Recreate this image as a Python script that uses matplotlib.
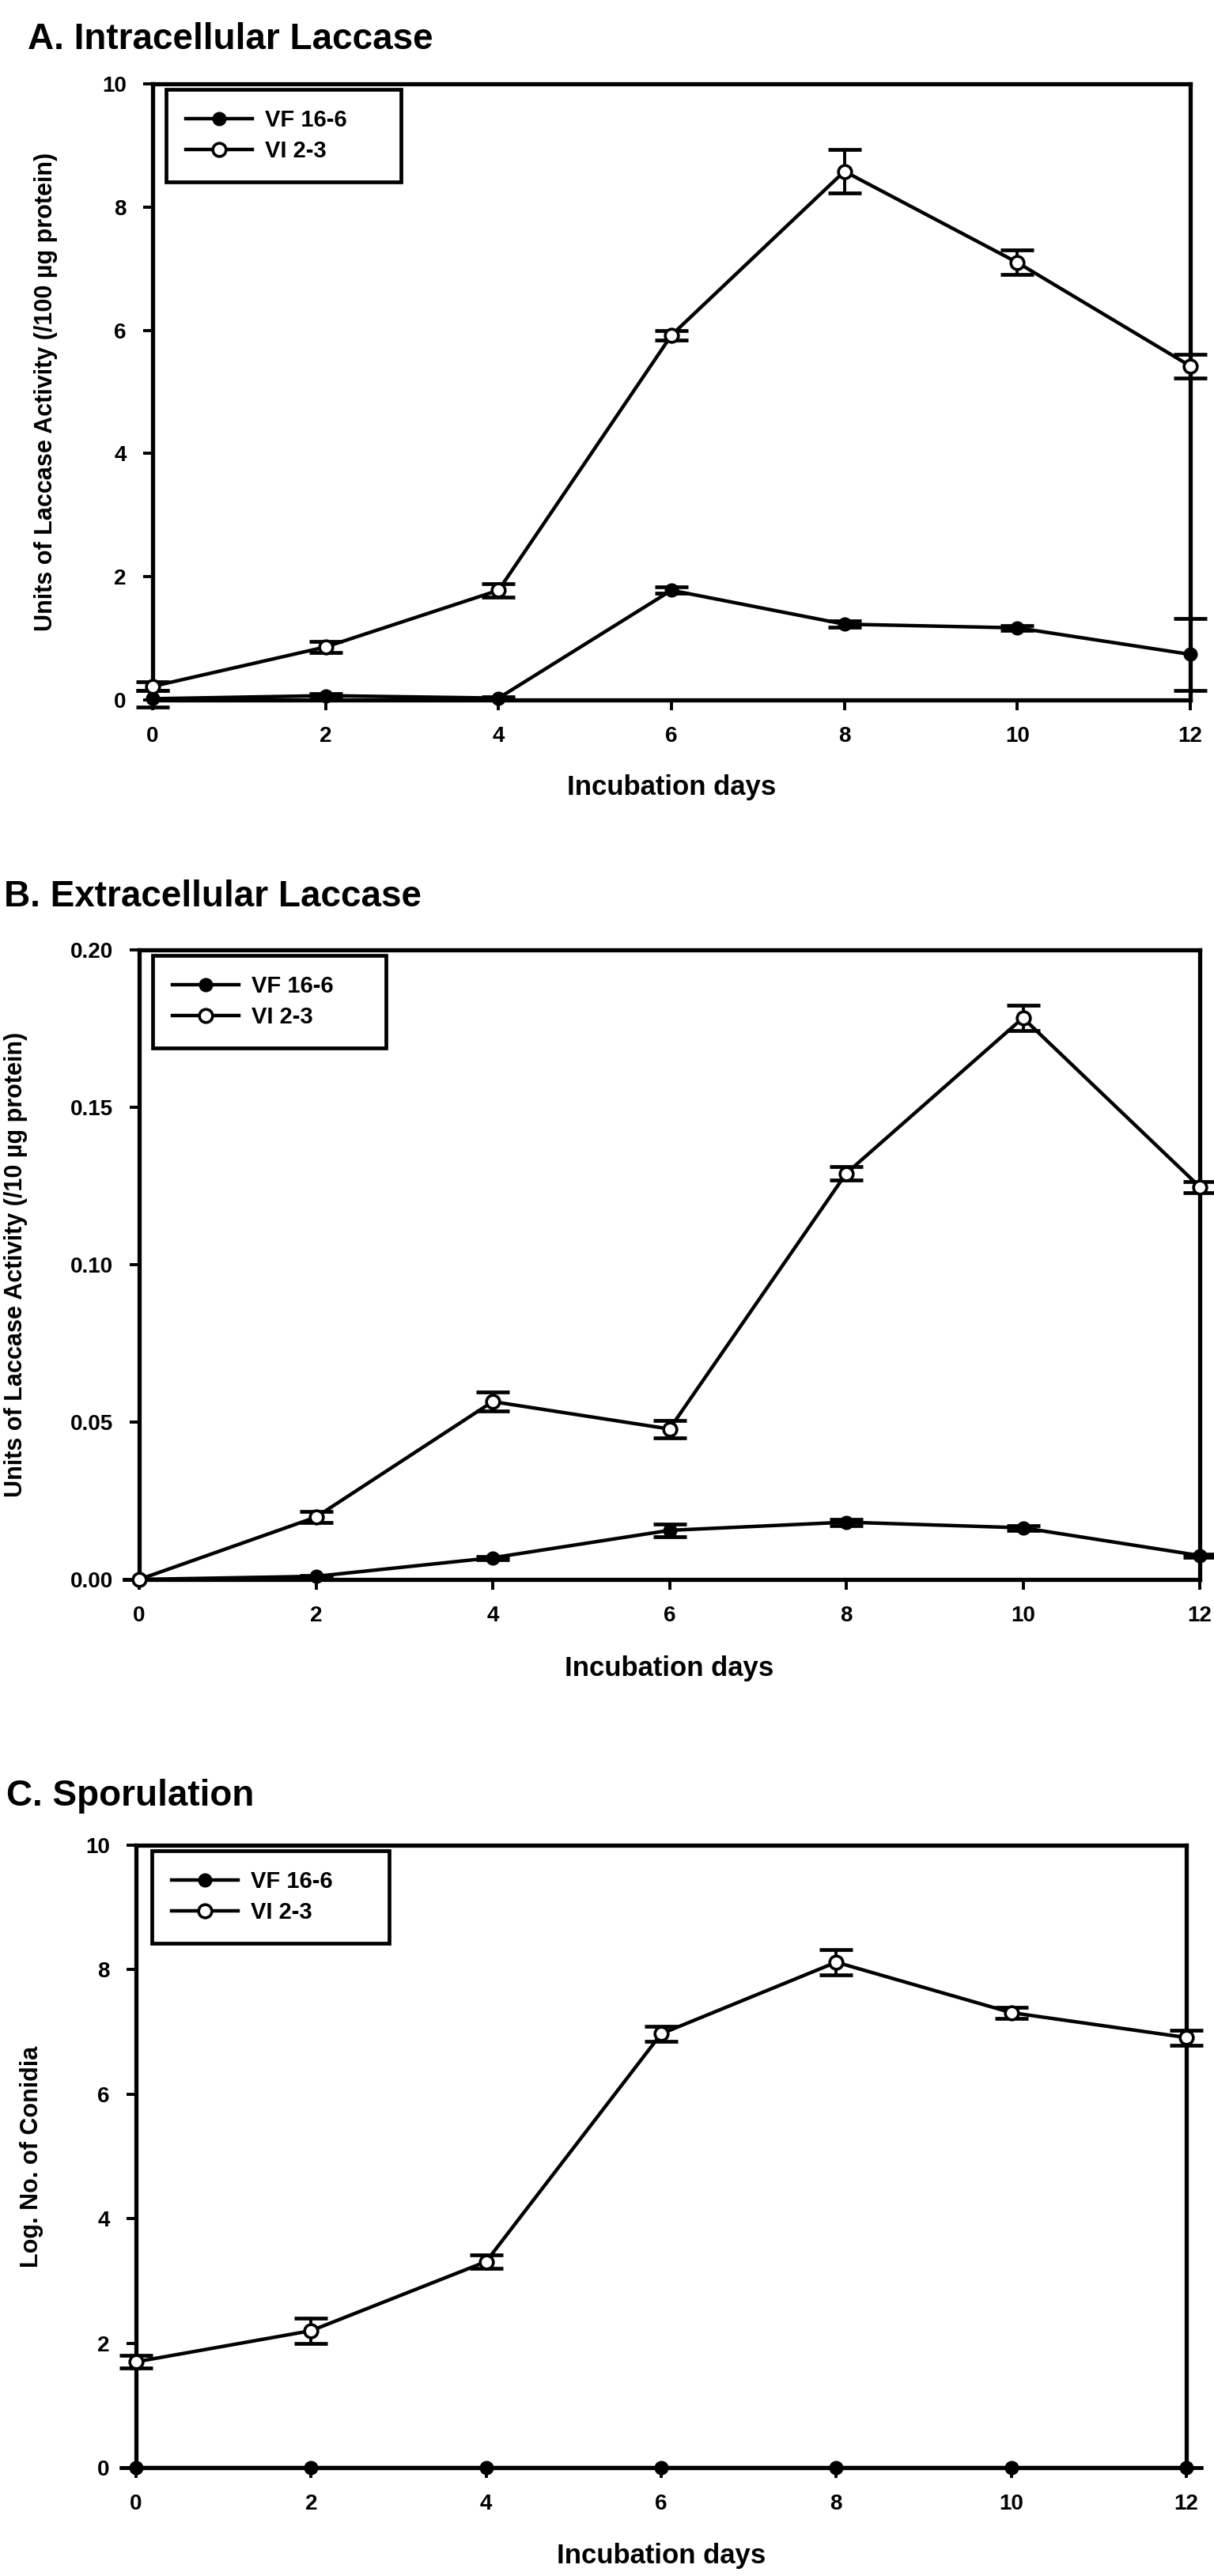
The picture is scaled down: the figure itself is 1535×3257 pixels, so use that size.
import matplotlib
matplotlib.use("Agg")
import matplotlib.pyplot as plt
from matplotlib.ticker import FormatStrFormatter

plt.rcParams["font.family"] = ["Liberation Sans", "DejaVu Sans"]
plt.rcParams["font.weight"] = "bold"

# Data
days = [0, 2, 4, 6, 8, 10, 12]
strains = ["VF 16-6", "VI 2-3"]

# A. intracellular laccase (units / 100 ug protein)
intra_vf = [0.02, 0.07, 0.03, 1.78, 1.23, 1.17, 0.74]
intra_vf_err = [0.13, 0.03, 0.02, 0.05, 0.05, 0.04, 0.58]
intra_vi = [0.22, 0.86, 1.78, 5.92, 8.58, 7.10, 5.42]
intra_vi_err = [0.07, 0.09, 0.11, 0.08, 0.35, 0.20, 0.19]

# B. extracellular laccase (units / 10 ug protein)
extra_vf = [0.0, 0.001, 0.0069, 0.0156, 0.0182, 0.0164, 0.0076]
extra_vf_err = [0.0, 0.0003, 0.0005, 0.0020, 0.0010, 0.0007, 0.0005]
extra_vi = [0.0, 0.0198, 0.0565, 0.0478, 0.129, 0.1784, 0.1247]
extra_vi_err = [0.0, 0.0018, 0.0030, 0.0027, 0.0021, 0.0040, 0.0018]

# C. sporulation (log no. of conidia)
spor_vf = [0, 0, 0, 0, 0, 0, 0]
spor_vf_err = [0, 0, 0, 0, 0, 0, 0]
spor_vi = [1.70, 2.20, 3.31, 6.97, 8.12, 7.31, 6.91]
spor_vi_err = [0.10, 0.20, 0.11, 0.12, 0.20, 0.09, 0.12]

W, H = 1535, 3257
fig = plt.figure(figsize=(W / 100, H / 100), dpi=100)


def box(left, top, right, bottom):
    return [left / W, 1 - bottom / H, (right - left) / W, (bottom - top) / H]


def fx(x):
    return x / W


def fy(y):
    return 1 - y / H


panels = [
    dict(title="A. Intracellular Laccase", title_xy=(35, 62),
         rect=(193, 106, 1505, 885), ylim=(0, 10), yticks=[0, 2, 4, 6, 8, 10], fmt="%d",
         vf=intra_vf, vf_err=intra_vf_err, vi=intra_vi, vi_err=intra_vi_err,
         ylabel="Units of Laccase Activity (/100 \u00b5g protein)", ylabel_x=58,
         xlabel_y=995, leg=(210, 113, 507)),
    dict(title="B. Extracellular Laccase", title_xy=(5, 1146),
         rect=(176, 1201, 1517, 1997), ylim=(0, 0.2), yticks=[0, 0.05, 0.10, 0.15, 0.20], fmt="%.2f",
         vf=extra_vf, vf_err=extra_vf_err, vi=extra_vi, vi_err=extra_vi_err,
         ylabel="Units of Laccase Activity (/10 \u00b5g protein)", ylabel_x=20,
         xlabel_y=2110, leg=(193, 1208, 488)),
    dict(title="C. Sporulation", title_xy=(8, 2283),
         rect=(172, 2333, 1500, 3120), ylim=(0, 10), yticks=[0, 2, 4, 6, 8, 10], fmt="%d",
         vf=spor_vf, vf_err=spor_vf_err, vi=spor_vi, vi_err=spor_vi_err,
         ylabel="Log. No. of Conidia", ylabel_x=40,
         xlabel_y=3231, leg=(192, 2340, 492)),
]

for p in panels:
    left, top, right, bottom = p["rect"]
    ax = fig.add_axes(box(left, top, right, bottom))

    # error bars
    for vals, errs in [(p["vf"], p["vf_err"]), (p["vi"], p["vi_err"])]:
        ax.errorbar(days, vals, yerr=errs, fmt="none", ecolor="black",
                    elinewidth=2.8, capsize=15, capthick=3.4, clip_on=False, zorder=3)

    ax.plot(days, p["vf"], color="black", lw=3.2, marker="o", ms=12,
            mfc="black", mec="black", label=strains[0], clip_on=False, zorder=4)
    ax.plot(days, p["vi"], color="black", lw=3.2, marker="o", ms=12,
            mfc="white", mec="black", mew=2.6, label=strains[1], clip_on=False, zorder=5)

    ax.set_xlim(0, 12)
    ax.set_ylim(*p["ylim"])
    ax.set_xticks(days)
    ax.set_yticks(p["yticks"])
    ax.yaxis.set_major_formatter(FormatStrFormatter(p["fmt"]))
    ax.tick_params(direction="out", length=9, width=2.8, labelsize=20, pad=15,
                   top=False, right=False)
    for s in ax.spines.values():
        s.set_linewidth(3.8)

    # legend box
    lx0, ltop, lx1 = p["leg"]
    bb = ((lx0 - left) / (right - left), (bottom - ltop) / (bottom - top),
          (lx1 - lx0) / (right - left), 0)
    leg = ax.legend(loc="upper left", bbox_to_anchor=bb, mode="expand",
                    fontsize=21, numpoints=1, handlelength=2.9, handletextpad=0.55,
                    labelspacing=0.4, borderpad=0.85, borderaxespad=0,
                    fancybox=False, edgecolor="black", framealpha=1)
    leg.get_frame().set_linewidth(3.4)

    cx = (left + right) / 2
    cy = (top + bottom) / 2
    fig.text(fx(p["title_xy"][0]), fy(p["title_xy"][1]), p["title"],
             fontsize=33, fontweight="bold", ha="left", va="baseline")
    fig.text(fx(cx), fy(p["xlabel_y"]), "Incubation days",
             fontsize=25, fontweight="bold", ha="center", va="center")
    fig.text(fx(p["ylabel_x"]), fy(cy), p["ylabel"], rotation=90,
             fontsize=22, fontweight="bold", ha="center", va="center")

fig.savefig("out.png", dpi=100)
